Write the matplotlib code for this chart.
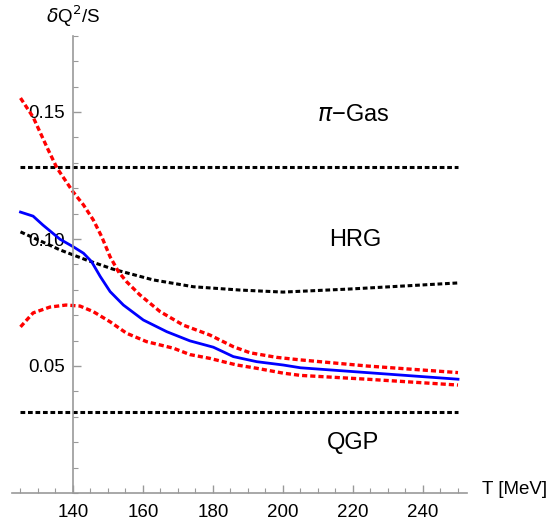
import matplotlib
matplotlib.use("Agg")
import matplotlib.pyplot as plt
import numpy as np
from matplotlib.ticker import MultipleLocator

plt.rcParams['font.family'] = ['Liberation Sans', 'DejaVu Sans']

# ---- data ----
T_blue = [125, 128.6, 131.4, 136.3, 140, 143, 145.3, 147.8, 150.6, 154.4, 160.1, 166.8,
          173.4, 180.1, 182.9, 185.8, 192.5, 200, 205, 224, 238, 250]
v_blue = [0.1106, 0.109, 0.1055, 0.0999, 0.097, 0.0944, 0.0911, 0.0852, 0.0793, 0.0740,
          0.0681, 0.0635, 0.0599, 0.0574, 0.0556, 0.0537, 0.0517, 0.0504, 0.0493, 0.0474,
          0.0460, 0.0448]

T_up = [125, 128.6, 132.6, 135.4, 140, 143, 145.8, 148.2, 150.6, 153, 155.3, 159.1,
        164.9, 171.5, 179.1, 182.9, 185.8, 190.6, 198.2, 205, 224, 250]
v_up = [0.1555, 0.148, 0.136, 0.128, 0.1186, 0.1134, 0.1075, 0.1009, 0.0930, 0.0871,
        0.0832, 0.0780, 0.0714, 0.0661, 0.0622, 0.0596, 0.0576, 0.0552, 0.0534, 0.0524,
        0.0500, 0.0474]

T_lo = [125, 128.6, 133.4, 138, 142, 145.8, 150.6, 155.3, 161, 168.7, 173.4, 179.1,
        182.9, 186.8, 192.5, 200, 205, 224, 250]
v_lo = [0.0654, 0.0709, 0.0732, 0.0740, 0.0736, 0.0714, 0.0674, 0.0629, 0.0596, 0.0570,
        0.0545, 0.0530, 0.0517, 0.0504, 0.0491, 0.0472, 0.0463, 0.0448, 0.0425]

T_hrg = [125, 136.3, 143.9, 151.5, 162.9, 174.4, 187.7, 200, 219, 250]
v_hrg = [0.1028, 0.0957, 0.0917, 0.0881, 0.0839, 0.0812, 0.0799, 0.0791, 0.0803, 0.0827]

T_range = [125, 250]
pi_gas = 0.1285
qgp = 0.0319

x_ticks = [140, 160, 180, 200, 220, 240]
y_ticks = [0.05, 0.10, 0.15]
y_tick_labels = ["0.05", "0.10", "0.15"]

# ---- figure ----
W, H = 552, 523
fig = plt.figure(figsize=(W / 100, H / 100), dpi=100)
left, right, top, bottom = 11.75, 466.75, 35.8, 493.0
ax = fig.add_axes([left / W, 1 - bottom / H, (right - left) / W, (bottom - top) / H])
ax.set_xlim(122.5, 252.5)
ax.set_ylim(0.0, 0.18)

dot = (0, (1.55, 0.9))
kw = dict(lw=2.2, linestyle=dot, dash_capstyle='butt')
ax.plot(T_range, [pi_gas, pi_gas], color='black', **kw)
ax.plot(T_range, [qgp, qgp], color='black', **kw)
ax.plot(T_hrg, v_hrg, color='black', **kw)
ax.plot(T_up, v_up, color='#ff0000', lw=2.4, linestyle=dot, dash_capstyle='butt')
ax.plot(T_lo, v_lo, color='#ff0000', lw=2.4, linestyle=dot, dash_capstyle='butt')
ax.plot(T_blue, v_blue, color='#0000ff', lw=2.0, solid_joinstyle='round')

# region labels
ax.text(220.0, 0.1490, r'$\pi$' + '\u2212Gas', fontsize=17, ha='center', va='center')
ax.text(220.6, 0.0996, 'HRG', fontsize=17, ha='center', va='center')
ax.text(220.0, 0.0197, 'QGP', fontsize=17, ha='center', va='center')

# axes style
for s in ['top', 'right']:
    ax.spines[s].set_visible(False)
ax.spines['left'].set_position(('data', 140))
ax.spines['bottom'].set_position(('data', 0))
for s in ['left', 'bottom']:
    ax.spines[s].set_color('#999999')
    ax.spines[s].set_linewidth(1.2)

ax.set_xticks(x_ticks)
ax.set_yticks(y_ticks)
ax.set_yticklabels(y_tick_labels)
ax.xaxis.set_minor_locator(MultipleLocator(5))
ax.yaxis.set_minor_locator(MultipleLocator(0.01))
ax.tick_params(which='major', direction='in', length=6, width=1.0, color='#999999',
               labelsize=13.5, pad=8)
ax.tick_params(which='minor', direction='in', length=3.5, width=0.8, color='#999999')
ax.tick_params(axis='y', which='major', pad=6)

fig.text(73 / W, 1 - 16 / H, r'$\delta$Q$^2$/S', fontsize=13.5, ha='center', va='center')
fig.text(515 / W, 1 - 490 / H, 'T [MeV]', fontsize=13.5, ha='center', va='center')

fig.savefig('out.png', dpi=100)
